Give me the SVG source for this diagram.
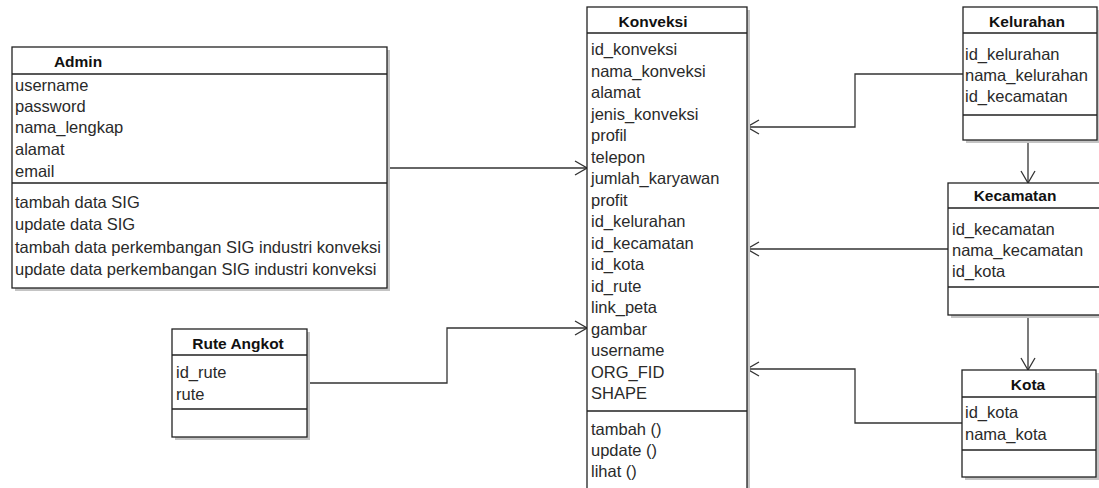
<svg xmlns="http://www.w3.org/2000/svg" width="1099" height="488" viewBox="0 0 1099 488">
<defs>
<style>
.bg{fill:#fff}
.shadow{fill:#c4c4c4}
.box{fill:#fff;stroke:#222;stroke-width:1.3}
.sep{stroke:#222;stroke-width:1.3;fill:none}
.t{font-family:"Liberation Sans",Arial,sans-serif;font-size:16.5px;fill:#2a2a2a}
.h{font-family:"Liberation Sans",Arial,sans-serif;font-size:15.5px;font-weight:bold;fill:#111;text-anchor:middle}
.c{stroke:#333;stroke-width:1.3;fill:none;marker-end:url(#arr)}
</style>
<marker id="arr" viewBox="0 0 14 16" refX="13" refY="8" markerWidth="14" markerHeight="16" markerUnits="userSpaceOnUse" orient="auto">
<path d="M1,1 L13,8 L1,15" fill="none" stroke="#333" stroke-width="1.3"/>
</marker>
</defs>
<rect class="bg" x="0" y="0" width="1099" height="488"/>

<g id="connectors">
<path class="c" d="M387,168 L587,168"/>
<path class="c" d="M307,383 L447,383 L447,328 L587,328"/>
<path class="c" d="M963,74 L855,74 L855,127 L747,127"/>
<path class="c" d="M948,249 L747,249"/>
<path class="c" d="M962,423 L855,423 L855,369 L747,369"/>
<path class="c" d="M1028,141 L1028,183"/>
<path class="c" d="M1028,316 L1028,370"/>
</g>

<g id="admin">
<rect class="shadow" x="15" y="50" width="375" height="241"/>
<rect class="box" x="12" y="47" width="375" height="241"/>
<path class="sep" d="M12,74 H387 M12,183 H387"/>
<text class="h" x="78" y="67">Admin</text>
<text class="t" x="15" y="91">username</text>
<text class="t" x="15" y="112">password</text>
<text class="t" x="15" y="133">nama_lengkap</text>
<text class="t" x="15" y="155">alamat</text>
<text class="t" x="15" y="177">email</text>
<text class="t" x="15" y="208">tambah data SIG</text>
<text class="t" x="15" y="230">update data SIG</text>
<text class="t" x="15" y="253">tambah data perkembangan SIG industri konveksi</text>
<text class="t" x="15" y="275">update data perkembangan SIG industri konveksi</text>
</g>

<g id="konveksi">
<rect class="shadow" x="590" y="10" width="160" height="490"/>
<rect class="box" x="587" y="7" width="160" height="490"/>
<path class="sep" d="M587,33 H747 M587,411 H747"/>
<text class="h" x="653" y="27">Konveksi</text>
<text class="t" x="591" y="55">id_konveksi</text>
<text class="t" x="591" y="76.5">nama_konveksi</text>
<text class="t" x="591" y="98">alamat</text>
<text class="t" x="591" y="119.5">jenis_konveksi</text>
<text class="t" x="591" y="141">profil</text>
<text class="t" x="591" y="162.5">telepon</text>
<text class="t" x="591" y="184">jumlah_karyawan</text>
<text class="t" x="591" y="205.5">profit</text>
<text class="t" x="591" y="227">id_kelurahan</text>
<text class="t" x="591" y="248.5">id_kecamatan</text>
<text class="t" x="591" y="270">id_kota</text>
<text class="t" x="591" y="291.5">id_rute</text>
<text class="t" x="591" y="313">link_peta</text>
<text class="t" x="591" y="334.5">gambar</text>
<text class="t" x="591" y="356">username</text>
<text class="t" x="591" y="377.5">ORG_FID</text>
<text class="t" x="591" y="399">SHAPE</text>
<text class="t" x="591" y="435">tambah ()</text>
<text class="t" x="591" y="456">update ()</text>
<text class="t" x="591" y="477">lihat ()</text>
</g>

<g id="kelurahan">
<rect class="shadow" x="966" y="10" width="134" height="133"/>
<rect class="box" x="963" y="7" width="134" height="133"/>
<path class="sep" d="M963,33 H1097 M963,115 H1097"/>
<text class="h" x="1027" y="27">Kelurahan</text>
<text class="t" x="965" y="60">id_kelurahan</text>
<text class="t" x="965" y="81">nama_kelurahan</text>
<text class="t" x="965" y="102">id_kecamatan</text>
</g>

<g id="kecamatan">
<rect class="shadow" x="951" y="186" width="160" height="132"/>
<rect class="box" x="948" y="183" width="160" height="132"/>
<path class="sep" d="M948,208 H1108 M948,287 H1108"/>
<text class="h" x="1015" y="201">Kecamatan</text>
<text class="t" x="952" y="235">id_kecamatan</text>
<text class="t" x="952" y="256">nama_kecamatan</text>
<text class="t" x="952" y="277">id_kota</text>
</g>

<g id="kota">
<rect class="shadow" x="965" y="373" width="134" height="107"/>
<rect class="box" x="962" y="370" width="134" height="107"/>
<path class="sep" d="M962,397 H1096 M962,450 H1096"/>
<text class="h" x="1028" y="390">Kota</text>
<text class="t" x="965" y="418">id_kota</text>
<text class="t" x="965" y="440">nama_kota</text>
</g>

<g id="rute-angkot">
<rect class="shadow" x="175" y="332" width="135" height="108"/>
<rect class="box" x="172" y="329" width="135" height="108"/>
<path class="sep" d="M172,355 H307 M172,409 H307"/>
<text class="h" x="238" y="349">Rute Angkot</text>
<text class="t" x="176" y="378">id_rute</text>
<text class="t" x="176" y="400">rute</text>
</g>
</svg>
